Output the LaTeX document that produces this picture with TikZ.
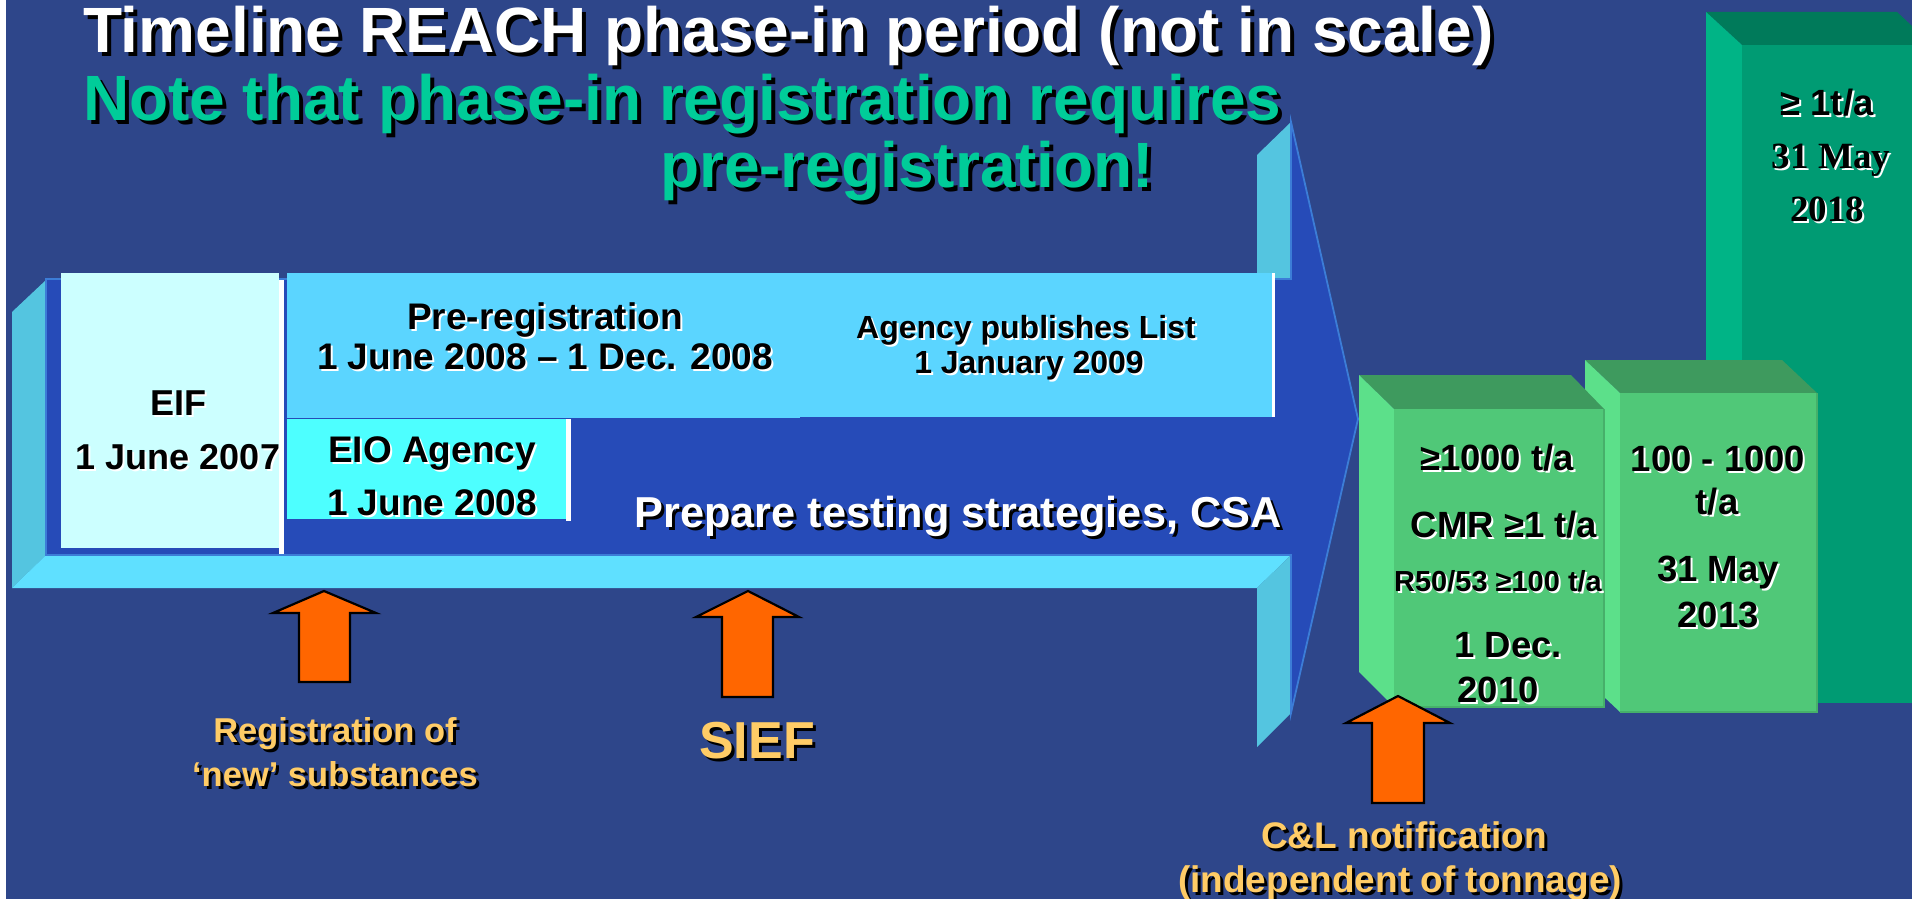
\documentclass[tikz,border=0pt]{standalone}
\usepackage{fontspec}
\setmainfont{Liberation Sans}
\newfontfamily\serifbf{Liberation Serif}

% colours
\definecolor{bg}{RGB}{46,70,138}
\definecolor{body}{RGB}{38,75,184}
\definecolor{bodyedge}{RGB}{60,125,215}
\definecolor{sideface}{RGB}{84,197,224}
\definecolor{bottomface}{RGB}{95,224,255}
\definecolor{eifbox}{RGB}{204,255,255}
\definecolor{prebox}{RGB}{91,213,255}
\definecolor{eiobox}{RGB}{77,255,255}
\definecolor{titlegreen}{RGB}{0,204,153}
\definecolor{labelyellow}{RGB}{255,204,102}
\definecolor{arroworange}{RGB}{255,102,0}
\definecolor{gfront}{RGB}{80,200,120}
\definecolor{gside}{RGB}{92,224,138}
\definecolor{gtop}{RGB}{62,154,94}
\definecolor{tfront}{RGB}{0,155,115}
\definecolor{tside}{RGB}{0,180,134}
\definecolor{ttop}{RGB}{0,122,90}

% font size helper and drop-shadowed text: \shd{offset}{shadow colour}{text}
\newcommand\fsz[1]{\fontsize{#1}{#1}\selectfont}
\newcommand\shd[3]{\rlap{\hspace*{#1}\raisebox{-#1}{\color{#2}#3}}#3}

\begin{document}
\begin{tikzpicture}[x=1pt,y=-1pt,
  lbl/.style={inner sep=0pt, outer sep=0pt, anchor=base, font=\bfseries},
  lblw/.style={lbl, anchor=base west},
  panel/.style={inner sep=0pt, outer sep=0pt, anchor=north west, draw=none},
  uparrow/.style={fill=arroworange, draw=black, line width=2.2pt, line join=miter}
]
\useasboundingbox (0,0) rectangle (1912,899);
\fill[bg] (0,0) rectangle (1912,899);
\fill[white] (0,0) rectangle (6,899);

% ---------- title ----------
\node[lblw, white] (t1) at (83,53) {\fsz{64}\shd{4pt}{black}{Timeline REACH phase-in period (not in scale)}};
\node[lblw, titlegreen] (t2) at (83,120) {\fsz{64}\shd{4pt}{black}{Note that phase-in registration requires}};
\node[lblw, titlegreen] (t3) at (660,187) {\fsz{64}\shd{4pt}{black}{pre-registration!}};

% ---------- big 3D timeline arrow ----------
\fill[sideface] (12,312) -- (46,280) -- (46,555) -- (12,588) -- cycle;
\fill[bottomface] (12,588) -- (46,555) -- (1291,555) -- (1257,588) -- cycle;
\fill[sideface] (1257,588) -- (1291,555) -- (1291,713) -- (1257,747) -- cycle;
\fill[sideface] (1257,155) -- (1291,122) -- (1291,279) -- (1257,279) -- cycle;
\filldraw[fill=body, draw=bodyedge, line width=1.8pt, line join=miter]
  (46,279) -- (1291,279) -- (1291,122) -- (1358,419) -- (1291,713)
  -- (1291,555) -- (46,555) -- cycle;

% ---------- boxes on the arrow ----------
\node[panel, fill=eifbox, minimum width=218pt, minimum height=275pt] (eifbox) at (61,273) {};
\node[panel, fill=prebox, minimum width=513pt, minimum height=145pt] (prebox) at (287,273) {};
\node[panel, fill=prebox, minimum width=478pt, minimum height=144pt] (agbox) at (794,273) {};
\node[panel, fill=eiobox, minimum width=279pt, minimum height=100pt] (eiobox) at (287,419) {};

\node[lbl] (eif1) at (178,415) {\fsz{36}\shd{2pt}{white}{EIF}};
\node[lbl] (eif2) at (178,469) {\fsz{36}\shd{2pt}{white}{1 June 2007}};

% white separators
\fill[white] (279,280) rectangle (284,554);
\fill[white] (566,419) rectangle (571,521);
\fill[white] (1272,273) rectangle (1275,417);

\node[lbl] (pre1) at (545,329) {\fsz{37}\shd{2pt}{white}{Pre-registration}};
\node[lbl] (pre2) at (545,369) {\fsz{37}\shd{2pt}{white}{1 June 2008 – 1 Dec. 2008}};
\node[lbl] (eio1) at (432,462) {\fsz{37}\shd{2pt}{white}{EIO Agency}};
\node[lbl] (eio2) at (432,515) {\fsz{37}\shd{2pt}{white}{1 June 2008}};
\node[lbl] (ag1) at (1026,338) {\fsz{32}\shd{2pt}{white}{Agency publishes List}};
\node[lbl] (ag2) at (1029,373) {\fsz{32}\shd{2pt}{white}{1 January 2009}};
\node[lbl, white] (prep) at (958,527) {\fsz{43.3}\shd{3pt}{black}{Prepare testing strategies, CSA}};

% ---------- orange markers ----------
\filldraw[uparrow] (324,591) -- (376,613) -- (350,613) -- (350,682) -- (299,682) -- (299,613) -- (273,613) -- cycle;
\filldraw[uparrow] (748,591) -- (799,617) -- (773,617) -- (773,697) -- (722,697) -- (722,617) -- (696,617) -- cycle;

\node[lbl, labelyellow] (reg1) at (335,742) {\fsz{34.5}\shd{3pt}{black}{Registration of}};
\node[lbl, labelyellow] (reg2) at (335,786) {\fsz{34.5}\shd{3pt}{black}{‘new’ substances}};
\node[lbl, labelyellow] (sief) at (757,758) {\fsz{52}\shd{3pt}{black}{SIEF}};

% ---------- tonnage blocks ----------
% >= 1 t/a, 2018
\fill[ttop] (1706,12) -- (1897,12) -- (1912,26) -- (1912,45) -- (1742,45) -- cycle;
\fill[tside] (1706,12) -- (1742,45) -- (1742,703) -- (1706,670) -- cycle;
\fill[tfront] (1742,45) rectangle (1912,703);
% 100 - 1000 t/a, 2013
\fill[gtop] (1585,360) -- (1782,360) -- (1817,393) -- (1620,393) -- cycle;
\fill[gside] (1585,360) -- (1620,393) -- (1620,712) -- (1585,679) -- cycle;
\fill[gfront] (1620,393) rectangle (1817,712);
\draw[gfront!88!black, line width=1.2pt] (1620,712) -- (1817,712) -- (1817,393);
% >= 1000 t/a, 2010
\fill[gtop] (1359,375) -- (1571,375) -- (1604,409) -- (1394,409) -- cycle;
\fill[gside] (1359,375) -- (1394,409) -- (1394,707) -- (1359,672) -- cycle;
\fill[gfront] (1394,409) rectangle (1604,707);
\draw[gfront!88!black, line width=1.2pt] (1394,707) -- (1604,707) -- (1604,409);

\node[lbl] (a1) at (1497,470) {\fsz{36.5}\shd{2pt}{white}{≥1000 t/a}};
\node[lbl] (a2) at (1504,537) {\fsz{36.5}\shd{2pt}{white}{CMR ≥1 t/a}};
\node[lbl] (a3) at (1498,591) {\fsz{29}\shd{2pt}{white}{R50/53 ≥100 t/a}};
\node[lbl] (a4) at (1508,657) {\fsz{36.5}\shd{2pt}{white}{1 Dec.}};
\node[lbl] (a5) at (1498,702) {\fsz{36.5}\shd{2pt}{white}{2010}};

\node[lbl] (b1) at (1718,471) {\fsz{36.5}\shd{2pt}{white}{100 - 1000}};
\node[lbl] (b2) at (1717,514) {\fsz{36.5}\shd{2pt}{white}{t/a}};
\node[lbl] (b3) at (1718,581) {\fsz{36.5}\shd{2pt}{white}{31 May}};
\node[lbl] (b4) at (1718,627) {\fsz{36.5}\shd{2pt}{white}{2013}};

\node[lbl] (c1) at (1827,115) {\fsz{36.5}\shd{2pt}{white}{≥ 1t/a}};
\node[lbl, font=\serifbf\bfseries] (c2) at (1831,168) {\fsz{37}\shd{2pt}{white}{31 May}};
\node[lbl, font=\serifbf\bfseries] (c3) at (1827,221) {\fsz{37}\shd{2pt}{white}{2018}};

% ---------- C&L marker ----------
\filldraw[uparrow] (1398,696) -- (1450,723) -- (1424,723) -- (1424,803) -- (1372,803) -- (1372,723) -- (1346,723) -- cycle;
\node[lbl, labelyellow] (cl1) at (1404,848) {\fsz{37}\shd{3pt}{black}{C\&L notification}};
\node[lbl, labelyellow] (cl2) at (1400,892) {\fsz{37}\shd{3pt}{black}{(independent of tonnage)}};
\end{tikzpicture}
\end{document}
